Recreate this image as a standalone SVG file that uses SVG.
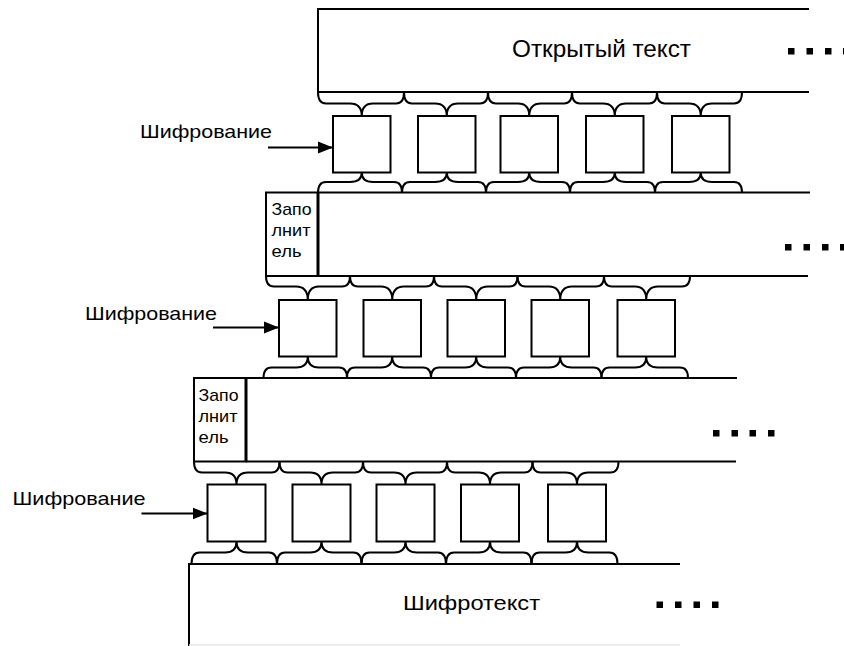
<svg xmlns="http://www.w3.org/2000/svg" width="844" height="646" viewBox="0 0 844 646">
<style>
text{font-family:"Liberation Sans",Arial,sans-serif;fill:#000}
.ln{stroke:#000;stroke-width:2;fill:none}
.thick{stroke:#000;stroke-width:3;fill:none}
.box{stroke:#000;stroke-width:2;fill:#fff}
.br{stroke:#000;stroke-width:2;fill:none}
.ar{stroke:#000;stroke-width:2;fill:none}
.dot{fill:#000}
.lbl{font-size:19px}
.big{font-size:23px}
.fill{font-size:17px}
</style>
<defs>
<marker id="ah" markerUnits="userSpaceOnUse" markerWidth="16" markerHeight="14" refX="15" refY="7" orient="auto">
<path d="M0,1 L15,7 L0,13 Z" fill="#000"/>
</marker>
</defs>
<rect width="844" height="646" fill="#fff"/>

<g id="band-plain">
<path class="ln" d="M809,9 H318 V92 H809"/>
<text class="big" x="512" y="57" textLength="179" lengthAdjust="spacingAndGlyphs">Открытый текст</text>
<rect class="dot" x="788" y="48" width="6.5" height="6.5"/>
<rect class="dot" x="806.5" y="48" width="6.5" height="6.5"/>
<rect class="dot" x="825" y="48" width="6.5" height="6.5"/>
<rect class="dot" x="843" y="48" width="6.5" height="6.5"/>
</g>

<g id="row1">
<rect class="box" x="333" y="116" width="57.5" height="56.5"/>
<rect class="box" x="418" y="116" width="57.5" height="56.5"/>
<rect class="box" x="500.5" y="116" width="57.5" height="56.5"/>
<rect class="box" x="586" y="116" width="57.5" height="56.5"/>
<rect class="box" x="672" y="116" width="57.5" height="56.5"/>
</g>
<g id="label1"><text class="lbl" x="140" y="138" textLength="132" lengthAdjust="spacingAndGlyphs">Шифрование</text></g>

<g id="band2">
<path class="ln" d="M810,192.5 H318 M808,276 H318"/>
<rect class="box" x="266" y="192.5" width="52" height="83.5"/>
<line class="thick" x1="318" y1="192" x2="318" y2="276.5"/>
<text class="fill" x="271.5" y="215" textLength="40" lengthAdjust="spacingAndGlyphs">Запо</text>
<text class="fill" x="271.5" y="236" textLength="39" lengthAdjust="spacingAndGlyphs">лнит</text>
<text class="fill" x="271.5" y="257" textLength="30" lengthAdjust="spacingAndGlyphs">ель</text>
<rect class="dot" x="785" y="244" width="6.5" height="6.5"/>
<rect class="dot" x="803.5" y="244" width="6.5" height="6.5"/>
<rect class="dot" x="822" y="244" width="6.5" height="6.5"/>
<rect class="dot" x="840" y="244" width="6.5" height="6.5"/>
</g>

<g id="row2">
<rect class="box" x="279" y="300" width="57.5" height="56.5"/>
<rect class="box" x="363.5" y="300" width="57.5" height="56.5"/>
<rect class="box" x="447.5" y="300" width="57.5" height="56.5"/>
<rect class="box" x="531.5" y="300" width="57.5" height="56.5"/>
<rect class="box" x="617.5" y="300" width="57.5" height="56.5"/>
</g>
<g id="label2"><text class="lbl" x="85" y="320" textLength="132" lengthAdjust="spacingAndGlyphs">Шифрование</text></g>

<g id="band3">
<path class="ln" d="M737,378 H246 M736,461.5 H246"/>
<rect class="box" x="194" y="378" width="52" height="83.5"/>
<line class="thick" x1="246" y1="377.5" x2="246" y2="462"/>
<text class="fill" x="198.5" y="400.5" textLength="40" lengthAdjust="spacingAndGlyphs">Запо</text>
<text class="fill" x="198.5" y="421.5" textLength="39" lengthAdjust="spacingAndGlyphs">лнит</text>
<text class="fill" x="198.5" y="443" textLength="30" lengthAdjust="spacingAndGlyphs">ель</text>
<rect class="dot" x="713" y="430" width="6.5" height="6.5"/>
<rect class="dot" x="731.5" y="430" width="6.5" height="6.5"/>
<rect class="dot" x="749.5" y="430" width="6.5" height="6.5"/>
<rect class="dot" x="768" y="430" width="6.5" height="6.5"/>
</g>

<g id="row3">
<rect class="box" x="207.5" y="484.5" width="58" height="57"/>
<rect class="box" x="292.5" y="484.5" width="58" height="57"/>
<rect class="box" x="376.5" y="484.5" width="58" height="57"/>
<rect class="box" x="461" y="484.5" width="58" height="57"/>
<rect class="box" x="548" y="484.5" width="58" height="57"/>
</g>
<g id="label3"><text class="lbl" x="12.5" y="505" textLength="133" lengthAdjust="spacingAndGlyphs">Шифрование</text></g>

<g id="band-cipher">
<path class="ln" d="M680,564 H189 V646"/>
<path d="M189,645 H680" stroke="#e6e6e6" stroke-width="1.5" fill="none"/>
<text x="403" y="610" style="font-size:21px" textLength="137" lengthAdjust="spacingAndGlyphs">Шифротекст</text>
<rect class="dot" x="656.5" y="601.5" width="6.5" height="6.5"/>
<rect class="dot" x="675" y="601.5" width="6.5" height="6.5"/>
<rect class="dot" x="693.5" y="601.5" width="6.5" height="6.5"/>
<rect class="dot" x="712" y="601.5" width="6.5" height="6.5"/>
</g>

<g id="connectors">
<line class="ar" x1="268" y1="147.5" x2="333" y2="147.5" marker-end="url(#ah)"/>
<line class="ar" x1="213" y1="327.5" x2="279" y2="327.5" marker-end="url(#ah)"/>
<line class="ar" x1="141.5" y1="513.5" x2="207.5" y2="513.5" marker-end="url(#ah)"/>

<path class="br" d="M318,92 Q318,103.5 326,103.5 H350 Q361.75,103.5 361.75,116 Q361.75,103.5 373,103.5 H396 Q404,103.5 404,92"/>
<path class="br" d="M404,92 Q404,103.5 412,103.5 H435 Q446.75,103.5 446.75,116 Q446.75,103.5 458,103.5 H480 Q488,103.5 488,92"/>
<path class="br" d="M488,92 Q488,103.5 496,103.5 H518 Q529.25,103.5 529.25,116 Q529.25,103.5 541,103.5 H564 Q572,103.5 572,92"/>
<path class="br" d="M572,92 Q572,103.5 580,103.5 H603 Q614.75,103.5 614.75,116 Q614.75,103.5 626,103.5 H649 Q657,103.5 657,92"/>
<path class="br" d="M657,92 Q657,103.5 665,103.5 H689 Q700.75,103.5 700.75,116 Q700.75,103.5 712,103.5 H734 Q742,103.5 742,92"/>

<path class="br" d="M318,192.5 Q318,182 326,182 H350 Q361.75,182 361.75,172.5 Q361.75,182 373,182 H394 Q402,182 402,192.5"/>
<path class="br" d="M402,192.5 Q402,182 410,182 H435 Q446.75,182 446.75,172.5 Q446.75,182 458,182 H478 Q486,182 486,192.5"/>
<path class="br" d="M486,192.5 Q486,182 494,182 H518 Q529.25,182 529.25,172.5 Q529.25,182 541,182 H562 Q570,182 570,192.5"/>
<path class="br" d="M570,192.5 Q570,182 578,182 H603 Q614.75,182 614.75,172.5 Q614.75,182 626,182 H647 Q655,182 655,192.5"/>
<path class="br" d="M655,192.5 Q655,182 663,182 H689 Q700.75,182 700.75,172.5 Q700.75,182 712,182 H734 Q742,182 742,192.5"/>

<path class="br" d="M266,276 Q266,286.5 274,286.5 H296 Q307.75,286.5 307.75,300 Q307.75,286.5 319,286.5 H342 Q350,286.5 350,276"/>
<path class="br" d="M350,276 Q350,286.5 358,286.5 H381 Q392.25,286.5 392.25,300 Q392.25,286.5 404,286.5 H426 Q434,286.5 434,276"/>
<path class="br" d="M434,276 Q434,286.5 442,286.5 H465 Q476.25,286.5 476.25,300 Q476.25,286.5 488,286.5 H509.5 Q517.5,286.5 517.5,276"/>
<path class="br" d="M517.5,276 Q517.5,286.5 525.5,286.5 H549 Q560.25,286.5 560.25,300 Q560.25,286.5 572,286.5 H596 Q604,286.5 604,276"/>
<path class="br" d="M604,276 Q604,286.5 612,286.5 H635 Q646.25,286.5 646.25,300 Q646.25,286.5 658,286.5 H682 Q690,286.5 690,276"/>

<path class="br" d="M263.5,378 Q263.5,367.5 271.5,367.5 H296 Q307.75,367.5 307.75,356.5 Q307.75,367.5 319,367.5 H339 Q347,367.5 347,378"/>
<path class="br" d="M347,378 Q347,367.5 355,367.5 H381 Q392.25,367.5 392.25,356.5 Q392.25,367.5 404,367.5 H423 Q431,367.5 431,378"/>
<path class="br" d="M431,378 Q431,367.5 439,367.5 H465 Q476.25,367.5 476.25,356.5 Q476.25,367.5 488,367.5 H508 Q516,367.5 516,378"/>
<path class="br" d="M516,378 Q516,367.5 524,367.5 H549 Q560.25,367.5 560.25,356.5 Q560.25,367.5 572,367.5 H593.5 Q601.5,367.5 601.5,378"/>
<path class="br" d="M601.5,378 Q601.5,367.5 609.5,367.5 H635 Q646.25,367.5 646.25,356.5 Q646.25,367.5 658,367.5 H680 Q688,367.5 688,378"/>

<path class="br" d="M194,461.5 Q194,472.5 202,472.5 H225 Q236.5,472.5 236.5,484.5 Q236.5,472.5 248,472.5 H271.5 Q279.5,472.5 279.5,461.5"/>
<path class="br" d="M279.5,461.5 Q279.5,472.5 287.5,472.5 H310 Q321.5,472.5 321.5,484.5 Q321.5,472.5 333,472.5 H355 Q363,472.5 363,461.5"/>
<path class="br" d="M363,461.5 Q363,472.5 371,472.5 H394 Q405.5,472.5 405.5,484.5 Q405.5,472.5 417,472.5 H439 Q447,472.5 447,461.5"/>
<path class="br" d="M447,461.5 Q447,472.5 455,472.5 H478.5 Q490,472.5 490,484.5 Q490,472.5 501.5,472.5 H524.5 Q532.5,472.5 532.5,461.5"/>
<path class="br" d="M532.5,461.5 Q532.5,472.5 540.5,472.5 H565.5 Q577,472.5 577,484.5 Q577,472.5 588.5,472.5 H610.5 Q618.5,472.5 618.5,461.5"/>

<path class="br" d="M191.5,564 Q191.5,552.5 199.5,552.5 H225 Q236.5,552.5 236.5,541.5 Q236.5,552.5 248,552.5 H269 Q277,552.5 277,564"/>
<path class="br" d="M277,564 Q277,552.5 285,552.5 H310 Q321.5,552.5 321.5,541.5 Q321.5,552.5 333,552.5 H353.5 Q361.5,552.5 361.5,564"/>
<path class="br" d="M361.5,564 Q361.5,552.5 369.5,552.5 H394 Q405.5,552.5 405.5,541.5 Q405.5,552.5 417,552.5 H438 Q446,552.5 446,564"/>
<path class="br" d="M446,564 Q446,552.5 454,552.5 H478.5 Q490,552.5 490,541.5 Q490,552.5 501.5,552.5 H523.5 Q531.5,552.5 531.5,564"/>
<path class="br" d="M531.5,564 Q531.5,552.5 539.5,552.5 H565.5 Q577,552.5 577,541.5 Q577,552.5 588.5,552.5 H609.5 Q617.5,552.5 617.5,564"/>
</g>
</svg>
